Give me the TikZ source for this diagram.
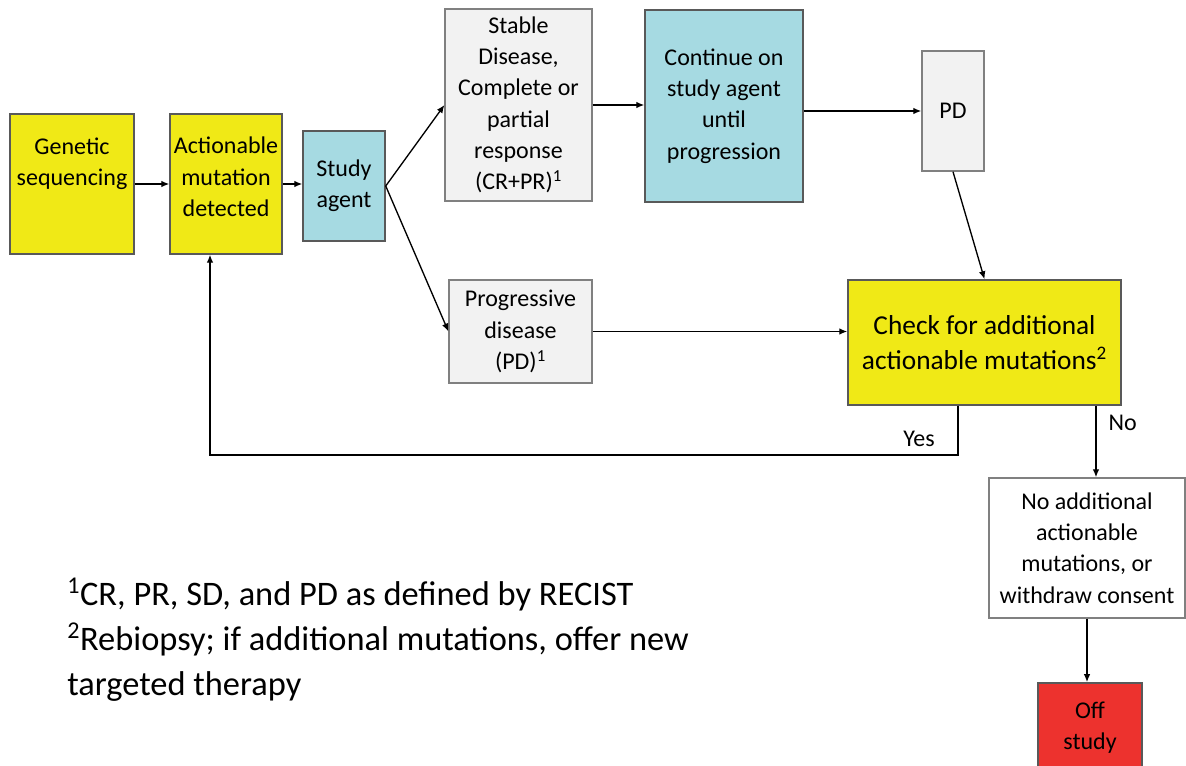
\documentclass[tikz,border=0pt]{standalone}
\usepackage{fontspec}
\setmainfont{Carlito}
\usepackage{tikz}
\usetikzlibrary{arrows.meta}
\definecolor{boxyellow}{RGB}{240,233,22}
\definecolor{boxcyan}{RGB}{166,218,226}
\definecolor{boxgray}{RGB}{242,242,242}
\definecolor{boxred}{RGB}{237,50,46}
\tikzstyle{box}=[draw=black!65,line width=1.1pt,align=center,inner sep=1pt,
	font=\fontsize{18}{23.5}\selectfont]
\tikzstyle{yellowbox}=[box,fill=boxyellow]
\tikzstyle{cyanbox}=[box,fill=boxcyan]
\tikzstyle{graybox}=[box,fill=boxgray,draw=black!50]
\tikzstyle{arr}=[-{Latex[length=6pt,width=5pt]},line width=1pt]
\tikzstyle{answer}=[font=\fontsize{18}{22}\selectfont]

\begin{document}
\begin{tikzpicture}[x=0.75pt,y=-0.75pt]
\clip (0,0) rectangle (1186,766);
% boxes
\node[yellowbox,minimum width=93pt,minimum height=105pt] (gen) at (72,184)
	{Genetic\\sequencing\\[10pt]\mbox{}};
\node[yellowbox,minimum width=84pt,minimum height=105pt] (act) at (226,184)
	{Actionable\\mutation\\detected\\[-13pt]\mbox{}};
\node[cyanbox,minimum width=61.5pt,minimum height=82.5pt] (agent) at (344,186)
	{Study\\agent};
\node[graybox,minimum width=110pt,minimum height=144pt] (stable) at (518.5,105)
	{Stable\\Disease,\\Complete or\\partial\\response\\(CR+PR)\textsuperscript{1}};
\node[graybox,minimum width=107pt,minimum height=77pt] (prog) at (520.5,331.5)
	{Progressive\\disease\\(PD)\textsuperscript{1}};
\node[cyanbox,minimum width=118.5pt,minimum height=144pt] (cont) at (724,106)
	{Continue on\\study agent\\until\\progression};
\node[graybox,minimum width=46.5pt,minimum height=90pt] (pd) at (953,111) {PD};
\node[yellowbox,minimum width=204.75pt,minimum height=93.75pt,
	font=\fontsize{20.5}{26}\selectfont] (check) at (984.5,342.5)
	{Check for additional\\actionable mutations\textsuperscript{2}};
\node[box,fill=white,draw=black!50,minimum width=147pt,minimum height=105pt] (noadd) at (1087,548)
	{No additional\\actionable\\mutations, or\\withdraw consent};
\node[box,fill=boxred,minimum width=78pt,minimum height=67pt] (off) at (1090,727.5)
	{Off\\study};
% footnotes
\node[anchor=west,align=left,inner sep=0pt,font=\fontsize{25.8}{33.75}\selectfont] (notes) at (67,640)
	{\textsuperscript{1}CR, PR, SD, and PD as defined by RECIST\\
	\textsuperscript{2}Rebiopsy; if additional mutations, offer new\\
	targeted therapy};
% connectors
\coordinate (yes) at (958,455);
\coordinate (back) at (210,455);
\coordinate (no) at (1096,440);
\draw[arr] (gen) -- (act);
\draw[arr] (act.east) -- (act.east -| agent.west);
\draw[arr] (agent.east) -- (stable.west);
\draw[arr] (agent.east) -- (prog.west);
\draw[arr] (stable.east) -- (stable.east -| cont.west);
\draw[arr] (cont.east |- pd.west) -- (pd.west);
\draw[arr] (pd.south) -- (check.north);
\draw[arr] (prog.east) -- (prog.east -| check.west);
\draw[arr] (check.south -| yes) -- (yes) -- (back) -- (back |- act.south);
\draw[arr] (check.south -| no) -- (no |- noadd.north);
\draw[arr] (noadd.south) -- (noadd.south |- off.north);
\node[answer,anchor=south east] at (yes) [xshift=-14pt,yshift=3pt] {Yes};
\node[answer,anchor=west] at (no) [xshift=6pt,yshift=13pt] {No};
\end{tikzpicture}
\end{document}
